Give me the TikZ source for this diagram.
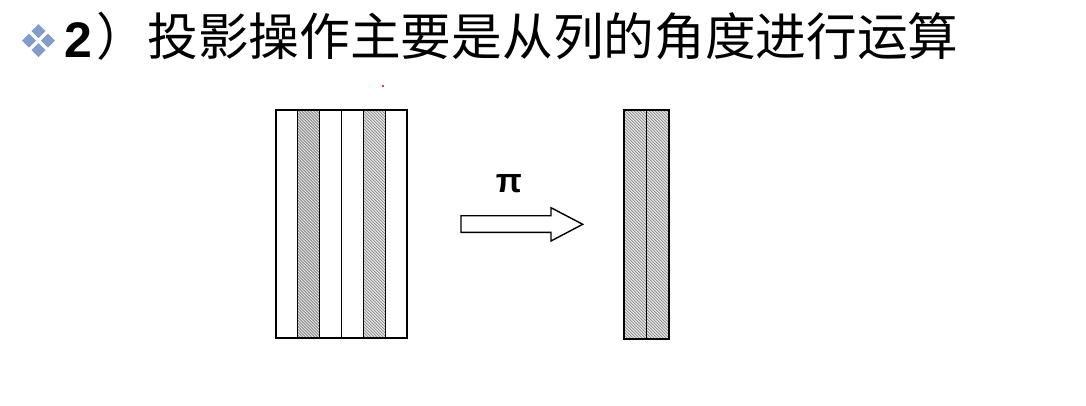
\documentclass[tikz,border=0pt]{standalone}
\usepackage{fontspec}
\newfontfamily\cjk{Noto Sans CJK SC}
\newfontfamily\arialb{Liberation Sans Bold}
\definecolor{bulletblue}{RGB}{132,156,202}
\definecolor{hatchbg}{RGB}{228,228,228}
\definecolor{hatchline}{RGB}{120,120,120}
\newcommand\hatchcolumn[4]{%
  \begin{scope}
    \clip (#1,#2) rectangle (#3,#4);
    \fill[hatchbg] (#1,#2) rectangle (#3,#4);
    \foreach \i in {-240,-237,...,60}
      \draw[hatchline, line width=0.6pt] ({#1+\i},#2) -- ++(260,260);
  \end{scope}}
\tikzset{
  tablebox/.style={draw=black, line width=1.8pt, inner sep=0pt, fill=none},
  divider/.style={draw=black, line width=1.4pt},
  bigarrow/.style={draw=black, line width=1.4pt, fill=white, line join=miter},
  bulletdia/.style={fill=bulletblue},
}
\begin{document}
\begin{tikzpicture}[x=1pt,y=-1pt]
\useasboundingbox[fill=white] (0,0) rectangle (1086,405);

% bullet icon (four small diamonds)
\foreach \cx/\cy in {29/40.5, 48/40.5, 38.5/31, 38.5/50}
  \fill[bulletdia] (\cx-7,\cy) -- (\cx,\cy-7) -- (\cx+7,\cy) -- (\cx,\cy+7) -- cycle;

% title
\node[anchor=base west, inner sep=0pt] (num) at (64,57) {\arialb\fontsize{50}{50}\selectfont 2};
\node[anchor=base west, inner sep=0pt] (title) at (96.5,55) {\cjk\fontsize{50.7}{50.7}\selectfont ）投影操作主要是从列的角度进行运算};

% tiny red dot
\fill[red!80!black] (383,86) circle (1.2);

% left table: six columns, 2nd and 5th hatched
\hatchcolumn{297.6}{110}{319.5}{338}
\hatchcolumn{363.3}{110}{385.2}{338}
\node[tablebox, minimum width=131.3pt, minimum height=228pt] (src) at (341.35,224) {};
\foreach \xx in {297.6,319.5,341.4,363.3,385.2}
  \draw[divider] (\xx,110) -- (\xx,338);

% right table: two hatched columns
\hatchcolumn{624.3}{110}{668.7}{339}
\node[tablebox, minimum width=44.4pt, minimum height=229pt] (dst) at (646.5,224.5) {};
\draw[divider] (646.3,110) -- (646.3,339);

% projection arrow
\draw[bigarrow] (461,215.7) -- (551,215.7) -- (551,207.7) -- (582.7,224.3) -- (551,241) -- (551,232.3) -- (461,232.3) -- cycle;
\node[inner sep=0pt] (pi) at (509,184) {\arialb\fontsize{34}{34}\selectfont π};
\end{tikzpicture}
\end{document}
